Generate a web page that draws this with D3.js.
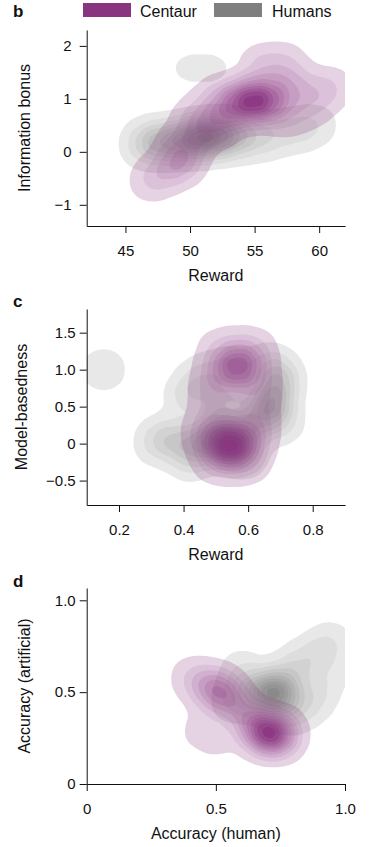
<!DOCTYPE html>
<html>
<head>
<meta charset="utf-8">
<script src="https://cdn.jsdelivr.net/npm/d3@7"></script>
<style>
  body { margin: 0; background: #fff; }
  text { font-family: "Liberation Sans", Arial, sans-serif; fill: #111; }
</style>
</head>
<body>
<script>

// colours of the two groups
var CENTAUR = "#8a3480";
var HUMANS = "#7f7f7f";

// panel b: reward vs information bonus, [x, y, weight]
var b_centaur = [
  [54.94, 0.94, 10], [53.5, 0.98, 5], [56.3, 0.98, 5], [52.7, 0.64, 4], [51.15, 0.41, 3],
  [49.6, -0.12, 4], [48.4, -0.34, 2.5], [46.9, -0.53, 2], [51.8, 1.0, 2], [57.7, 1.2, 3],
  [59.7, 1.15, 2], [61.2, 1.2, 1.5], [57.3, 0.69, 2], [55.5, 1.6, 2.5], [57.5, 1.65, 2],
  [59.3, 0.79, 1.5], [50.2, 0.62, 2], [48.6, 0.2, 1]
];
var b_humans = [
  [47.5, 0.18, 3], [46.2, 0.15, 1.5], [49.0, 0.2, 3], [50.6, 0.25, 6], [52.2, 0.3, 5],
  [53.8, 0.3, 3], [55.8, 0.3, 2], [58.1, 0.4, 1.5], [59.9, 0.5, 1],
  [49.3, 1.58, 0.4], [50.85, 1.58, 0.4], [52.4, 1.58, 0.4]
];
var b_xticks = [45, 50, 55, 60];
var b_yticks = [-1, 0, 1, 2];

// panel c: reward vs model-basedness
var c_centaur = [
  [0.545, 0.02, 10], [0.5, 0.0, 4], [0.6, 0.02, 4], [0.55, -0.2, 4], [0.49, -0.25, 2],
  [0.61, -0.25, 2], [0.46, 0.15, 2.5], [0.63, 0.2, 2.5], [0.565, 1.0, 8], [0.51, 1.0, 3],
  [0.62, 1.05, 3], [0.57, 1.25, 3], [0.5, 1.3, 1.5], [0.63, 1.3, 1.5], [0.48, 0.75, 2],
  [0.64, 0.75, 2], [0.49, 0.45, 2], [0.62, 0.5, 2]
];
var c_humans = [
  [0.36, 0.06, 2.5], [0.31, 0.02, 1.5], [0.45, 0.02, 4], [0.53, 0.05, 8], [0.58, -0.1, 4],
  [0.42, -0.2, 2], [0.67, 0.55, 5], [0.7, 0.85, 3], [0.67, 1.05, 2], [0.62, 0.3, 3],
  [0.7, 0.3, 2], [0.41, 0.65, 2], [0.46, 0.9, 2], [0.55, 1.0, 2], [0.52, 0.5, 3],
  [0.14, 1.0, 0.75], [0.165, 1.0, 0.75]
];
var c_xticks = [0.2, 0.4, 0.6, 0.8];
var c_yticks = [-0.5, 0, 0.5, 1.0, 1.5];

// panel d: accuracy human vs artificial
var d_centaur = [
  [0.7, 0.28, 10], [0.65, 0.31, 4], [0.75, 0.27, 4], [0.77, 0.27, 2.5], [0.71, 0.24, 2.5],
  [0.62, 0.37, 3], [0.52, 0.49, 6], [0.46, 0.53, 3], [0.4, 0.58, 2], [0.57, 0.45, 3],
  [0.5, 0.55, 2], [0.43, 0.29, 1.3], [0.51, 0.24, 1.3]
];
var d_humans = [
  [0.72, 0.47, 8], [0.68, 0.5, 4], [0.77, 0.5, 4], [0.74, 0.56, 3], [0.62, 0.5, 3],
  [0.56, 0.45, 2], [0.6, 0.62, 2], [0.82, 0.65, 3], [0.9, 0.72, 2], [0.95, 0.78, 1.5],
  [0.97, 0.62, 1], [0.9, 0.5, 2], [0.85, 0.42, 2], [0.78, 0.38, 2]
];
var d_xticks = [0, 0.5, 1.0];
var d_yticks = [0, 0.5, 1.0];

// contour levels as shares of the peak density
var LEVELS = [0.05, 0.15, 0.25, 0.35, 0.45, 0.55, 0.65, 0.75, 0.85, 0.95];

var W = 372, H = 847;
var LEFT = 86.7, RIGHT = 345;

var svg = d3.select("body").append("svg")
  .attr("width", W).attr("height", H);

// legend
var legend = svg.append("g");
legend.append("rect").attr("x", 83).attr("y", 3).attr("width", 48).attr("height", 14).attr("fill", CENTAUR);
legend.append("text").attr("x", 140).attr("y", 17).attr("font-size", 16).text("Centaur");
legend.append("rect").attr("x", 214).attr("y", 3).attr("width", 48).attr("height", 14).attr("fill", HUMANS);
legend.append("text").attr("x", 272).attr("y", 17).attr("font-size", 16).text("Humans");

var planar = d3.geoPath();

function draw_kde(g, pts, xs, ys, color, bw, lo, hi) {
  var dens = d3.contourDensity()
    .x(function(d) { return xs(d[0]); })
    .y(function(d) { return ys(d[1]); })
    .weight(function(d) { return d[2]; })
    .size([W, H])
    .cellSize(2)
    .bandwidth(bw);
  var probe = dens.thresholds(500)(pts);
  var max = d3.max(probe, function(c) { return c.value; });
  var cs = dens.thresholds(LEVELS.map(function(f) { return f * max; }))(pts);
  var n = cs.length, prev = 0;
  g.selectAll(null)
    .data(cs)
    .enter()
    .append("path")
    .attr("d", planar)
    .attr("fill", color)
    .attr("fill-opacity", function(d, i) {
      var cum = lo + (hi - lo) * i / (n - 1);
      var a = 1 - (1 - cum) / (1 - prev);
      prev = cum;
      return a;
    });
}

function panel(opt) {
  var xs = d3.scaleLinear().domain(opt.xdom).range([LEFT, RIGHT]);
  var ys = d3.scaleLinear().domain(opt.ydom).range([opt.bottom, opt.top]);

  svg.append("clipPath").attr("id", opt.id)
    .append("rect").attr("x", LEFT).attr("y", opt.top)
    .attr("width", RIGHT - LEFT).attr("height", opt.bottom - opt.top);

  var g = svg.append("g").attr("clip-path", "url(#" + opt.id + ")");
  draw_kde(g.append("g"), opt.humans, xs, ys, HUMANS, opt.bw, 0.18, 0.9);
  draw_kde(g.append("g"), opt.centaur, xs, ys, CENTAUR, opt.bw, 0.22, 0.97);

  var xa = svg.append("g")
    .attr("transform", "translate(0," + opt.bottom + ")")
    .call(d3.axisBottom(xs).tickValues(opt.xticks).tickFormat(opt.xfmt).tickSize(7).tickSizeOuter(0).tickPadding(12));
  var ya = svg.append("g")
    .attr("transform", "translate(" + LEFT + ",0)")
    .call(d3.axisLeft(ys).tickValues(opt.yticks).tickFormat(opt.yfmt).tickSize(7).tickSizeOuter(0).tickPadding(opt.ypad));
  [xa, ya].forEach(function(a) {
    a.selectAll("text").attr("font-size", 15).attr("font-family", "Liberation Sans, Arial, sans-serif").attr("fill", "#111");
    a.selectAll("line,path").attr("stroke", "#111");
  });

  svg.append("text")
    .attr("x", (LEFT + RIGHT) / 2).attr("y", opt.bottom + 55)
    .attr("text-anchor", "middle").attr("font-size", 16)
    .text(opt.xlabel);
  svg.append("text")
    .attr("transform", "translate(" + opt.ytx + "," + ((opt.top + opt.bottom) / 2) + ") rotate(-90)")
    .attr("text-anchor", "middle").attr("font-size", 16)
    .text(opt.ylabel);
  svg.append("text")
    .attr("x", 13).attr("y", opt.letterY)
    .attr("font-size", 17).attr("font-weight", "bold")
    .text(opt.letter);
}

function minus(f) {
  return function(v) { return f(v).replace("-", "\u2212"); };
}
function short(v) { return v === 0 ? "0" : d3.format(".1f")(v); }

panel({
  id: "clip-b", letter: "b", letterY: 17,
  top: 30, bottom: 226, xdom: [42, 62], ydom: [-1.4, 2.3],
  xticks: b_xticks, yticks: b_yticks, ypad: 8, ytx: 30,
  xfmt: d3.format("d"), yfmt: minus(d3.format("d")),
  xlabel: "Reward", ylabel: "Information bonus",
  centaur: b_centaur, humans: b_humans, bw: 13
});

panel({
  id: "clip-c", letter: "c", letterY: 307,
  top: 309, bottom: 505, xdom: [0.1, 0.9], ydom: [-0.83, 1.82],
  xticks: c_xticks, yticks: c_yticks, ypad: 4, ytx: 27,
  xfmt: d3.format(".1f"), yfmt: minus(short),
  xlabel: "Reward", ylabel: "Model-basedness",
  centaur: c_centaur, humans: c_humans, bw: 13
});

panel({
  id: "clip-d", letter: "d", letterY: 587,
  top: 588, bottom: 784, xdom: [0, 1.0], ydom: [0, 1.067],
  xticks: d_xticks, yticks: d_yticks, ypad: 4, ytx: 30,
  xfmt: short, yfmt: short,
  xlabel: "Accuracy (human)", ylabel: "Accuracy (artificial)",
  centaur: d_centaur, humans: d_humans, bw: 13
});

</script>
</body>
</html>
